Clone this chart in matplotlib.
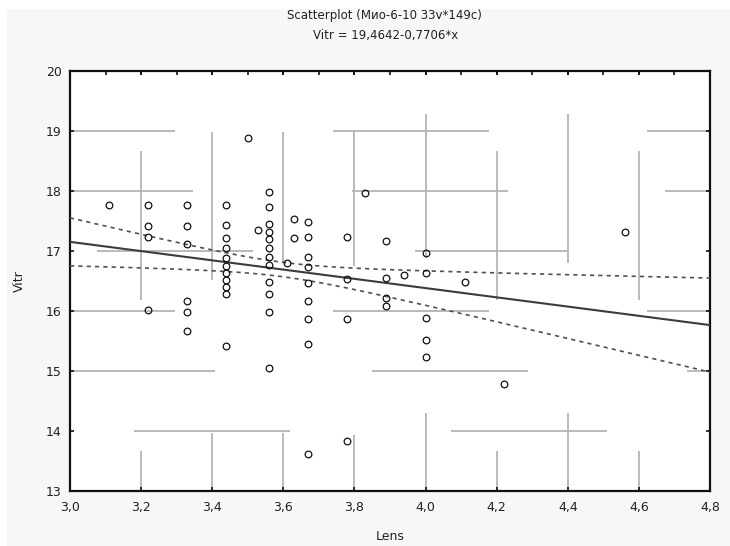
import numpy as np
import matplotlib
matplotlib.use("Agg")
import matplotlib.pyplot as plt
from matplotlib.patches import Rectangle
from matplotlib.ticker import MultipleLocator, FuncFormatter

plt.rcParams['font.family'] = ['DejaVu Sans']

# --- observations (Lens, Vitr) ---
lens = [3.11,
        3.22, 3.22, 3.22, 3.22,
        3.33, 3.33, 3.33, 3.33, 3.33, 3.33,
        3.44, 3.44, 3.44, 3.44, 3.44, 3.44, 3.44, 3.44, 3.44, 3.44, 3.44,
        3.50, 3.53,
        3.56, 3.56, 3.56, 3.56, 3.56, 3.56, 3.56, 3.56, 3.56, 3.56, 3.56, 3.56,
        3.61, 3.63, 3.63,
        3.67, 3.67, 3.67, 3.67, 3.67, 3.67, 3.67, 3.67, 3.67,
        3.78, 3.78, 3.78, 3.78,
        3.83,
        3.89, 3.89, 3.89, 3.89,
        3.94,
        4.00, 4.00, 4.00, 4.00, 4.00,
        4.11, 4.22, 4.56]
vitr = [17.77,
        17.77, 17.42, 17.23, 16.02,
        17.77, 17.41, 17.11, 16.16, 15.99, 15.66,
        17.77, 17.44, 17.22, 17.05, 16.88, 16.75, 16.63, 16.52, 16.40, 16.28, 15.42,
        18.89, 17.35,
        17.99, 17.74, 17.45, 17.32, 17.20, 17.05, 16.90, 16.77, 16.49, 16.29, 15.99, 15.05,
        16.80, 17.54, 17.21,
        17.49, 17.23, 16.90, 16.74, 16.46, 16.16, 15.87, 15.45, 13.61,
        17.23, 16.54, 15.87, 13.83,
        17.96,
        17.16, 16.55, 16.22, 16.08,
        16.60,
        16.96, 16.64, 15.88, 15.52, 15.24,
        16.49, 14.79, 17.32]

# --- fitted model: Vitr = 19,4642 - 0,7706*x ---
intercept = 19.4642
slope = -0.7706
n_cases = 149
lens_mean = 3.594
resid_sd = 0.741
lens_ss = 5.197

x_ticks = [3.0, 3.2, 3.4, 3.6, 3.8, 4.0, 4.2, 4.4, 4.6, 4.8]
y_ticks = [13, 14, 15, 16, 17, 18, 19, 20]

# broken grid pieces (start, end) along each grid line, in data units
h_grid = {19: [(3.0, 3.295), (3.739, 4.178), (4.622, 4.8)],
          18: [(3.0, 3.347), (3.792, 4.231), (4.673, 4.8)],
          17: [(3.077, 3.515), (3.97, 4.397)],
          16: [(3.0, 3.295), (3.739, 4.178), (4.622, 4.8)],
          15: [(3.0, 3.408), (3.85, 4.288), (4.734, 4.8)],
          14: [(3.18, 3.619), (4.071, 4.509)]}
v_grid = {3.2: [(16.19, 18.67), (13.0, 13.67)],
          3.4: [(16.52, 18.99), (13.0, 13.97)],
          3.6: [(16.80, 18.99), (13.0, 13.97)],
          3.8: [(16.75, 19.0), (13.0, 13.94)],
          4.0: [(16.88, 19.28), (13.0, 14.30)],
          4.2: [(16.19, 18.67), (13.0, 13.67)],
          4.4: [(16.80, 19.28), (13.0, 14.30)],
          4.6: [(16.19, 18.67), (13.0, 13.67)]}

W, H = 730, 546
fig = plt.figure(figsize=(W / 100, H / 100), dpi=100)
fig.patch.set_facecolor('white')
fig.add_artist(Rectangle((7 / W, 0), 1 - 7 / W, 1 - 9 / H, transform=fig.transFigure,
                         facecolor='#f7f7f7', edgecolor='none', zorder=-10))

ax = fig.add_axes([70 / W, 1 - 491 / H, 640 / W, 420 / H])
ax.set_facecolor('white')
ax.set_xlim(3.0, 4.8)
ax.set_ylim(13, 20)

grid_color = '#b4b4b4'
for yv, pieces in h_grid.items():
    for a, b in pieces:
        ax.plot([a, b], [yv, yv], color=grid_color, lw=1.3, zorder=1, solid_capstyle='butt')
for xv, pieces in v_grid.items():
    for a, b in pieces:
        ax.plot([xv, xv], [a, b], color=grid_color, lw=1.3, zorder=1, solid_capstyle='butt')

# regression line and 95% confidence band
t_crit = 1.976
xs = np.linspace(3.0, 4.8, 400)
fit = intercept + slope * xs
half = t_crit * resid_sd * np.sqrt(1 / n_cases + (xs - lens_mean) ** 2 / lens_ss)
ax.plot(xs, fit, color='#3c3c3c', lw=1.5, zorder=3)
ax.plot(xs, fit + half, color='#505050', lw=1.2, ls=(0, (2.5, 2.5)), zorder=3)
ax.plot(xs, fit - half, color='#505050', lw=1.2, ls=(0, (2.5, 2.5)), zorder=3)

ax.plot(lens, vitr, ls='none', marker='o', ms=4.8, mfc='none', mec='#111111',
        mew=0.9, zorder=4)

for s in ax.spines.values():
    s.set_linewidth(1.6)
    s.set_color('#111111')

ax.set_xticks(x_ticks)
ax.set_yticks(y_ticks)
ax.xaxis.set_major_formatter(FuncFormatter(lambda v, p: f"{v:.1f}".replace('.', ',')))
ax.yaxis.set_major_formatter(FuncFormatter(lambda v, p: f"{v:.0f}"))
ax.tick_params(direction='in', length=3, width=1.2, colors='#111111',
               labelsize=9, labelcolor='#222222', top=True, right=True)
ax.tick_params(axis='x', pad=7)
ax.tick_params(axis='y', pad=6)

# minor ticks along the top edge only
sec = ax.secondary_xaxis('top')
sec.xaxis.set_minor_locator(MultipleLocator(0.1))
sec.set_xticks(x_ticks)
sec.tick_params(which='both', direction='in', length=3, width=1.2, labeltop=False,
                colors='#111111')
sec.spines['top'].set_visible(False)

ax.set_xlabel('Lens', fontsize=9, color='#222222', labelpad=12)
ax.set_ylabel('Vitr', fontsize=9, color='#222222', labelpad=14)

fig.text(384 / W, 1 - 15 / H, 'Scatterplot (Мио-6-10 33v*149c)', ha='center', va='center',
         fontsize=8.5, color='#222222')
fig.text(386 / W, 1 - 36 / H, 'Vitr = 19,4642-0,7706*x', ha='center', va='center',
         fontsize=8.5, color='#222222')

fig.savefig('out.png', dpi=100, facecolor=fig.get_facecolor())
